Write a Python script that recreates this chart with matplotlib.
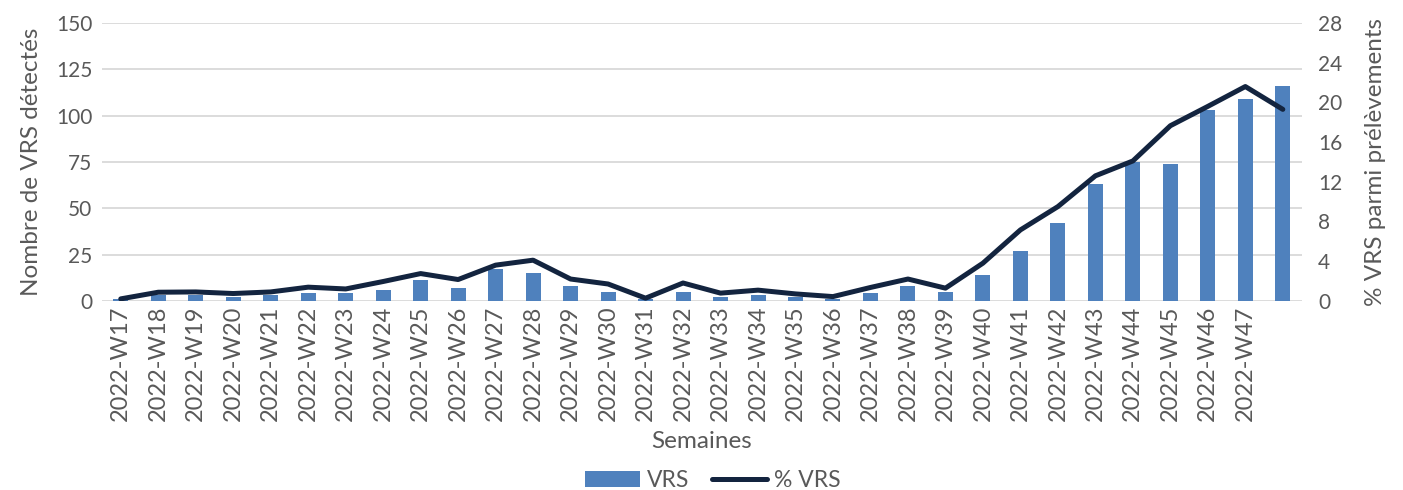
import matplotlib.pyplot as plt
import numpy as np

semaines = ["2022-W%d" % w for w in range(17, 49)]
vrs = [1, 3, 3, 2, 3, 4, 4, 6, 11, 7, 17, 15, 8, 5, 1, 5,
       2, 3, 2, 1, 4, 8, 5, 14, 27, 42, 63, 75, 74, 103, 109, 116]
pct_vrs = [0.2, 0.87, 0.9, 0.74, 0.9, 1.38, 1.2, 1.95, 2.75, 2.15, 3.6, 4.1,
           2.2, 1.7, 0.27, 1.8, 0.78, 1.08, 0.7, 0.43, 1.35, 2.2, 1.28, 3.8,
           7.15, 9.5, 12.6, 14.1, 17.65, 19.6, 21.6, 19.3]
# last week has no label on the axis
tick_labels = semaines[:-1] + [""]

gris = "#595959"
bleu = "#4F81BD"
marine = "#13243F"

plt.rcParams['font.family'] = ['Lato', 'DejaVu Sans']
plt.rcParams['font.size'] = 15

fig = plt.figure(figsize=(14.03, 4.9), dpi=100)
ax = fig.add_axes([0.0727, 0.386, 0.855, 0.567])
x = np.arange(len(semaines))

ax.bar(x, vrs, width=0.4, color=bleu, label="VRS", zorder=2)
ax.set_xlim(-0.5, len(semaines) - 0.5)
ax.set_ylim(0, 150)
ax.set_yticks(range(0, 151, 25))
ax.set_xticks(x)
ax.set_xticklabels(tick_labels, rotation=90, color=gris, fontsize=17)
ax.tick_params(axis='both', length=0, colors=gris)
ax.tick_params(axis='y', pad=7, labelsize=15)
ax.grid(axis='y', color="#D9D9D9", linewidth=1.3, zorder=0)
for s in ax.spines.values():
    s.set_visible(False)
ax.set_ylabel("Nombre de VRS détectés", color=gris, fontsize=17.5, labelpad=10)
ax.set_xlabel("Semaines", color=gris, fontsize=17.5, labelpad=7)

ax2 = ax.twinx()
ax2.plot(x, pct_vrs, color=marine, linewidth=3.6, label="% VRS",
         solid_joinstyle='round', solid_capstyle='round')
ax2.set_ylim(0, 28)
ax2.set_yticks(range(0, 29, 4))
ax2.tick_params(axis='y', length=0, colors=gris, labelsize=15, pad=12)
for s in ax2.spines.values():
    s.set_visible(False)
ax2.set_ylabel("% VRS parmi prélèvements", color=gris, fontsize=17.5, labelpad=16)

h1, l1 = ax.get_legend_handles_labels()
h2, l2 = ax2.get_legend_handles_labels()
leg = fig.legend(h1 + h2, l1 + l2, loc='lower center', bbox_to_anchor=(0.508, -0.045),
                 ncol=2, frameon=False, fontsize=16.5, handlelength=2.4,
                 columnspacing=1.0, handletextpad=0.3)
for t in leg.get_texts():
    t.set_color(gris)

fig.savefig("out.png", dpi=100)
